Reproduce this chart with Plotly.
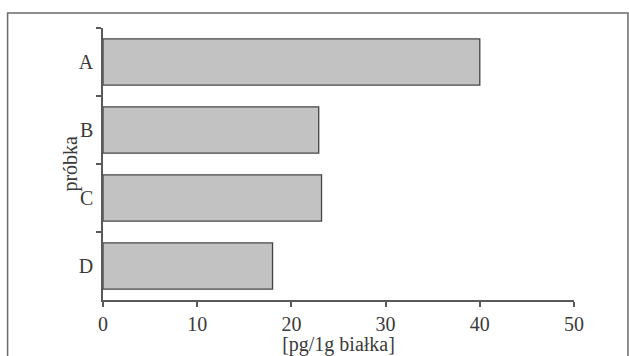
import plotly.graph_objects as go

categories = ["A", "B", "C", "D"]
values = [40.0, 22.9, 23.2, 18.0]
x_ticks = [0, 10, 20, 30, 40, 50]

W, H = 629, 356
L, R, T, B = 102.5, 55, 28, 55.5
pw = W - L - R
ph = H - T - B

font = dict(family="Liberation Serif, Times New Roman, serif", size=20, color="#3a3a3a")
axcol = "#5a5a5a"

fig = go.Figure(go.Bar(
    x=values, y=categories, orientation="h",
    marker=dict(color="#c2c2c2", line=dict(color="#454545", width=1.3)),
))

fig.update_layout(
    width=W, height=H,
    margin=dict(l=L, r=R, t=T, b=B, autoexpand=False),
    paper_bgcolor="white", plot_bgcolor="white",
    font=font, showlegend=False, bargap=0.32,
    xaxis=dict(range=[0, 50], tickvals=x_ticks, showgrid=False, zeroline=False,
               showline=True, linecolor=axcol, linewidth=1.5,
               ticks="outside", ticklen=5, tickcolor=axcol, tickwidth=1.5,
               title=dict(text="[pg/1g białka]", standoff=2, font=font)),
    yaxis=dict(categoryorder="array", categoryarray=categories, autorange="reversed",
               showgrid=False, zeroline=False, showline=True, linecolor=axcol, linewidth=1.5,
               ticks="outside", ticklen=5, tickcolor=axcol, tickwidth=1.5,
               tickson="boundaries", ticklabelstandoff=4),
)

# y-axis title as annotation for precise placement
fig.add_annotation(text="próbka", textangle=-90, xref="paper", yref="paper",
                   x=(69 - L) / pw, y=0.5, showarrow=False, font=font,
                   xanchor="center", yanchor="middle")

# outer frame
fig.add_shape(type="rect", xref="paper", yref="paper",
              x0=(7 - L) / pw, x1=(628 - L) / pw,
              y0=(H - B - (H + 5)) / ph, y1=(H - B - 13) / ph,
              line=dict(color="#6a6a6a", width=1.5), layer="below")

fig.write_html("out.html", config={"displayModeBar": False},
               post_script="document.body.style.margin='0';document.body.style.overflow='hidden';")
